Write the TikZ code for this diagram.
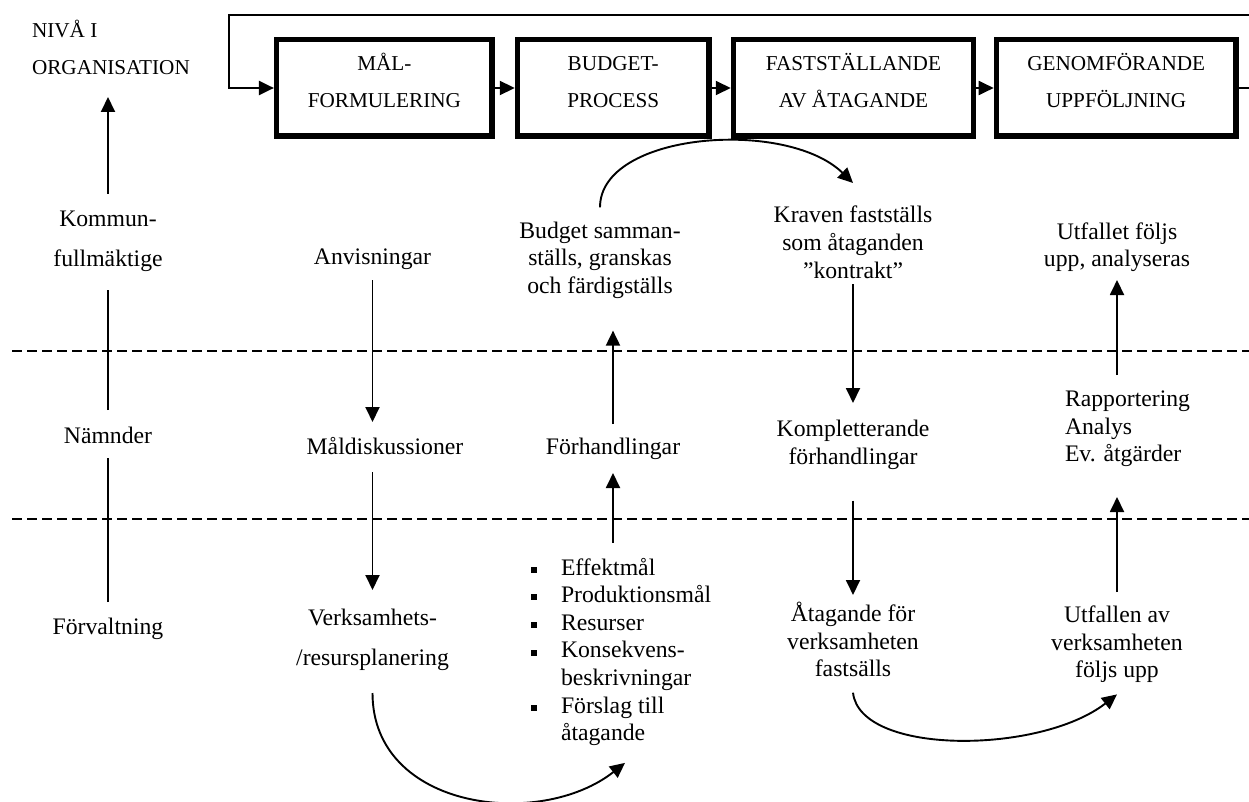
\documentclass[tikz,border=0pt]{standalone}
\usepackage{fontspec}
\setmainfont{Liberation Serif}
\usetikzlibrary{arrows.meta}
% struts that fix the top of the first line and the bottom of the last line
\newcommand\tstr{\rule{0pt}{22pt}}
\newcommand\bstr{\rule[-6pt]{0pt}{0pt}}
\newcommand\htstr{\rule{0pt}{20pt}}
\newcommand\hbstr{\rule[-5pt]{0pt}{0pt}}
\newcommand\stgtop{\rule{0pt}{21.2pt}}
\newcommand\stgbot{\rule[-18.8pt]{0pt}{0pt}}
\newcommand\sqbul{\rule[2.3pt]{6pt}{6pt}}
\begin{document}
\begin{tikzpicture}[x=1pt,y=-1pt,
  body/.style={font=\fontsize{23.7pt}{27.5pt}\selectfont, align=center,
    inner sep=0pt, outer sep=0pt, anchor=north},
  wide/.style={font=\fontsize{23.7pt}{40pt}\selectfont},
  head/.style={font=\fontsize{21.2pt}{37.3pt}\selectfont, align=left,
    inner sep=0pt, outer sep=0pt, anchor=north west},
  stage/.style={draw, line width=5.5pt, minimum width=#1, minimum height=96.5pt,
    inner sep=0pt, align=center, font=\fontsize{21.2pt}{37pt}\selectfont},
  ln/.style={line width=1.9pt},
  arr/.style={line width=1.9pt, -{Triangle[length=15pt,width=14pt]}},
  level/.style={line width=1.9pt, dash pattern=on 10pt off 5pt}
]
\useasboundingbox (0,0) rectangle (1249,802);

% level separators
\coordinate (d1l) at (12,351);  \coordinate (d1r) at (1249,351);
\coordinate (d2l) at (12,519);  \coordinate (d2r) at (1249,519);
\draw[level] (d1l) -- (d1r);
\draw[level] (d2l) -- (d2r);

% process stages
\node[stage=215.5pt] (s1) at (384.4,88) {\stgtop MÅL-\\FORMULERING\stgbot};
\node[stage=191.3pt] (s2) at (613.2,88) {\stgtop BUDGET-\\PROCESS\stgbot};
\node[stage=239.8pt] (s3) at (853.4,88) {\stgtop FASTSTÄLLANDE\\AV ÅTAGANDE\stgbot};
\node[stage=239.5pt] (s4) at (1116.2,88) {\stgtop GENOMFÖRANDE\\UPPFÖLJNING\stgbot};
\draw[arr] (s1) -- (s2);
\draw[arr] (s2) -- (s3);
\draw[arr] (s3) -- (s4);
\coordinate (lr) at (1252,15);
\coordinate (ll) at (229,15);
\draw[arr, line width=2.3pt] (s4.east) -| (lr) -- (ll) |- (s1.west);

% organisation levels
\node[head] (niva) at (32,17.7) {\htstr NIVÅ I\\ORGANISATION\hbstr};
\node[body, wide] (kf) at (108,204) {\tstr Kommun-\\fullmäktige\bstr};
\node[body] (nm) at (108,421) {\tstr Nämnder\bstr};
\node[body] (fv) at (108,612) {\tstr Förvaltning\bstr};
\draw[ln, shorten <=10pt, shorten >=9pt] (fv) -- (nm);
\draw[ln, shorten <=11pt, shorten >=18pt] (nm) -- (kf);
\draw[arr, shorten <=10pt, shorten >=17pt] (kf.north) -- (kf.north |- niva.south);

% goal formulation
\node[body] (anv) at (372.5,242) {\tstr Anvisningar\bstr};
\node[body] (mal) at (385,432) {\tstr Måldiskussioner\bstr};
\node[body, wide] (vp) at (372.5,603) {\tstr Verksamhets-\\/resursplanering\bstr};
\draw[arr, shorten <=10pt, shorten >=10pt] (anv.south) -- (anv.south |- mal.north);
\draw[arr, shorten <=12pt, shorten >=13pt] (mal.south -| vp.north) -- (vp.north);

% budget process
\node[body] (bud) at (600,216.3) {\tstr Budget samman-\\ställs, granskas\\och färdigställs\bstr};
\node[body] (forh) at (613,432) {\tstr Förhandlingar\bstr};
\node[font=\fontsize{23.7pt}{27.6pt}\selectfont, inner sep=0pt, outer sep=0pt,
  anchor=base west] (lst) at (531,575)
  {\begin{tabular}[t]{@{}l@{\hspace{24pt}}l@{}}
   \sqbul & Effektmål\\
   \sqbul & Produktionsmål\\
   \sqbul & Resurser\\
   \sqbul & Konsekvens-\\
          & beskrivningar\\
   \sqbul & Förslag till\\
          & åtagande
   \end{tabular}};
\draw[arr] ([yshift=-22pt]vp.south) .. controls +(0,117) and +(-85,67)
  .. ([shift={(94pt,-14pt)}]lst.south west);
\draw[arr, shorten <=12.7pt, shorten >=13pt] (forh.south |- lst.north) -- (forh.south);
\draw[arr, shorten <=8pt, shorten >=31.3pt] (forh.north) -- (forh.north |- bud.south);

% commitment
\node[body] (krav) at (853,201) {\tstr Kraven fastställs\\som åtaganden\\”kontrakt”\bstr};
\node[body] (komp) at (853,414.5) {\tstr Kompletterande\\förhandlingar\bstr};
\node[body] (atag) at (853,599.7) {\tstr Åtagande för\\verksamheten\\fastsälls\bstr};
\draw[arr] ([yshift=9pt]bud.north) .. controls +(0,-75) and +(-67,-65)
  .. ([yshift=18pt]krav.north);
\draw[arr, shorten >=11.5pt] (krav) -- (komp);
\draw[arr, shorten <=30.5pt, shorten >=4.7pt] (komp) -- (atag);

% follow-up
\node[body] (utf) at (1117,217.3) {\tstr Utfallet följs\\upp, analyseras\bstr};
\node[body, align=left, anchor=north west] (rap) at (1065,384.7)
  {\tstr Rapportering\\Analys\\Ev. åtgärder\bstr};
\node[body] (utn) at (1117,600.7) {\tstr Utfallen av\\verksamheten\\följs upp\bstr};
\draw[arr] ([yshift=-10pt]atag.south) .. controls +(7,63) and +(-77,60)
  .. ([yshift=-10.7pt]utn.south);
\draw[arr, shorten <=8.7pt, shorten >=29.3pt] (utn.north) -- (utn.north |- rap.south);
\draw[arr, shorten <=9.7pt, shorten >=7.2pt] (utn.north |- rap.north) -- (utf.south);
\end{tikzpicture}
\end{document}
